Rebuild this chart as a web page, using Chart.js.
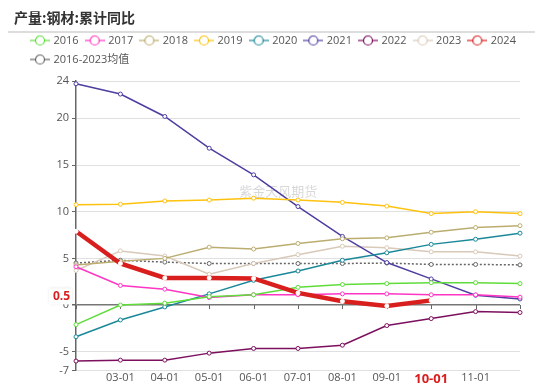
<!DOCTYPE html>
<html>
<head>
<meta charset="utf-8">
<script src="https://cdn.jsdelivr.net/npm/chart.js@4.4.1/dist/chart.umd.min.js"></script>
<style>
  html, body { margin: 0; padding: 0; background: #fff; }
  #wrap { position: relative; width: 550px; height: 388px; }
  #titulo { position: absolute; left: 14px; top: 7px; font: bold 14px "Noto Sans CJK SC", sans-serif; color: #333; }
  #linea { position: absolute; left: 8px; top: 31px; width: 527px; height: 2px; background: #ddd; }
  canvas { position: absolute; left: 0; top: 0; }
</style>
</head>
<body>
<div id="wrap">
  <canvas id="grafica" width="550" height="388"></canvas>
  <div id="titulo">产量:钢材:累计同比</div>
  <div id="linea"></div>
</div>
<script>
// datos
const categorias = ['02-01','03-01','04-01','05-01','06-01','07-01','08-01','09-01','10-01','11-01','12-01'];
const ticksY = [24, 20, 15, 10, 5, 0, -5, -7];

const s2016 = [-2.1, 0.0, 0.2, 0.9, 1.1, 1.9, 2.2, 2.3, 2.4, 2.4, 2.3];
const s2017 = [4.1, 2.1, 1.7, 0.8, 1.1, 1.1, 1.2, 1.2, 1.1, 1.1, 0.85];
const s2018 = [4.3, 4.7, 5.0, 6.2, 6.0, 6.6, 7.1, 7.2, 7.8, 8.3, 8.5];
const s2019 = [10.75, 10.8, 11.15, 11.25, 11.45, 11.25, 11.0, 10.6, 9.8, 10.0, 9.8];
const s2020 = [-3.4, -1.6, -0.2, 1.2, 2.65, 3.65, 4.8, 5.6, 6.5, 7.05, 7.7];
const s2021 = [23.7, 22.6, 20.2, 16.8, 13.95, 10.55, 7.35, 4.55, 2.8, 1.05, 0.65];
const s2022 = [-6.0, -5.9, -5.9, -5.15, -4.65, -4.65, -4.3, -2.2, -1.45, -0.7, -0.8];
const s2023 = [3.7, 5.8, 5.25, 3.3, 4.45, 5.4, 6.3, 6.15, 5.7, 5.7, 5.25];
const s2024 = [7.9, 4.45, 2.9, 2.9, 2.85, 1.3, 0.4, -0.1, 0.5, null, null];
const promedio = [4.5, 4.8, 4.6, 4.45, 4.45, 4.45, 4.45, 4.5, 4.35, 4.35, 4.3];

const series = [
  { label: '2016', data: s2016, color: '#5FDC3A' },
  { label: '2017', data: s2017, color: '#FF35C4' },
  { label: '2018', data: s2018, color: '#BBAD70' },
  { label: '2019', data: s2019, color: '#FFC20E' },
  { label: '2020', data: s2020, color: '#1B8899' },
  { label: '2021', data: s2021, color: '#4E3EA0' },
  { label: '2022', data: s2022, color: '#7C0F5E' },
  { label: '2023', data: s2023, color: '#D8C9B8' },
  { label: '2024', data: s2024, color: '#D91E1E' },
  { label: '2016-2023均值', data: promedio, color: '#666666' }
];

// icono de leyenda: linea con circulo
function iconoLeyenda(color) {
  const c = document.createElement('canvas');
  c.width = 20; c.height = 12;
  const g = c.getContext('2d');
  g.strokeStyle = color; g.lineWidth = 1.2;
  g.beginPath(); g.moveTo(0, 6); g.lineTo(20, 6); g.stroke();
  g.fillStyle = '#fff';
  g.beginPath(); g.arc(10, 6, 4.5, 0, Math.PI * 2); g.fill(); g.stroke();
  return c;
}
const iconos = series.map(s => iconoLeyenda(s.color));

const datasets = series.map((s, i) => {
  const esActual = s.label === '2024';
  const esProm = i === series.length - 1;
  return {
    label: s.label,
    data: s.data,
    borderColor: s.color,
    backgroundColor: '#fff',
    borderWidth: esActual ? 4.5 : 1.5,
    borderDash: esProm ? [2, 2] : [],
    pointRadius: 2,
    pointBorderWidth: 1,
    pointBackgroundColor: '#fff',
    pointBorderColor: esActual ? '#ffffff' : s.color,
    tension: 0,
    order: esActual ? -1 : 0
  };
});

// la leyenda necesita algo mas de ancho y un margen inferior
const margenLeyenda = {
  id: 'margenLeyenda',
  beforeUpdate(chart) {
    const lg = chart.legend;
    if (lg && !lg._parcheado) {
      const fitOrig = lg.fit;
      lg.fit = function () {
        this.maxWidth += 16;
        fitOrig.call(this);
        this.height += 6;
      };
      const drawOrig = lg.draw;
      lg.draw = function () {
        const r = this.right;
        this.right = r + 16;
        drawOrig.call(this);
        this.right = r;
      };
      lg._parcheado = true;
    }
  }
};

// marcas sobre la linea cero, marca de agua y etiqueta 0.5
const extras = {
  id: 'extras',
  beforeDatasetsDraw(chart) {
    const ctx = chart.ctx, x = chart.scales.x, y = chart.scales.y;
    const y0 = y.getPixelForValue(0);
    ctx.save();
    ctx.strokeStyle = '#666'; ctx.lineWidth = 1;
    for (let i = 0; i < categorias.length; i++) {
      const px = Math.round(x.getPixelForValue(i)) + 0.5;
      ctx.beginPath(); ctx.moveTo(px, y0); ctx.lineTo(px, y0 + 4); ctx.stroke();
    }
    ctx.font = '13px "Noto Sans CJK SC"';
    ctx.fillStyle = 'rgba(190,190,190,0.6)';
    ctx.textAlign = 'left'; ctx.textBaseline = 'middle';
    ctx.fillText('紫金天风期货', x.getPixelForValue(3) + 30, y.getPixelForValue(12.2));
    ctx.restore();
  },
  afterDraw(chart) {
    const ctx = chart.ctx, y = chart.scales.y;
    const ultimo = s2024.filter(v => v !== null).pop();
    const py = y.getPixelForValue(ultimo) - 4;
    ctx.save();
    ctx.font = 'bold 12px "Noto Sans"';
    const w = ctx.measureText(String(ultimo)).width;
    ctx.fillStyle = '#fff';
    ctx.shadowColor = 'rgba(0,0,0,0.15)'; ctx.shadowBlur = 3;
    ctx.fillRect(chart.chartArea.left - w - 10, py - 8, w + 6, 16);
    ctx.shadowBlur = 0;
    ctx.fillStyle = '#D91E1E';
    ctx.textAlign = 'right'; ctx.textBaseline = 'middle';
    ctx.fillText(String(ultimo), chart.chartArea.left - 6, py);
    ctx.restore();
  }
};

new Chart(document.getElementById('grafica'), {
  type: 'line',
  data: { labels: categorias, datasets: datasets },
  plugins: [margenLeyenda, extras],
  options: {
    responsive: false,
    animation: false,
    layout: { padding: { top: 27, left: 24, right: 30, bottom: 0 } },
    plugins: {
      legend: {
        position: 'top',
        align: 'start',
        labels: {
          usePointStyle: true,
          pointStyleWidth: 16,
          padding: 8,
          color: '#555',
          font: { size: 11, family: '"Open Sans", "Noto Sans CJK SC"' },
          sort: (a, b) => a.datasetIndex - b.datasetIndex,
          generateLabels(chart) {
            return Chart.defaults.plugins.legend.labels.generateLabels(chart)
              .map(l => ({ ...l, pointStyle: iconos[l.datasetIndex], lineWidth: 0 }));
          }
        }
      },
      tooltip: { enabled: false }
    },
    scales: {
      x: {
        offset: false,
        grid: { display: false, drawTicks: false },
        border: { display: false },
        ticks: {
          autoSkip: false,
          maxRotation: 0,
          padding: 1,
          callback: (v, i) => (i === 0 || i === categorias.length - 1) ? '' : categorias[i],
          color: c => c.tick && c.tick.label === '10-01' ? '#D91E1E' : '#555',
          font: c => c.tick && c.tick.label === '10-01'
            ? { size: 13, weight: 'bold', family: '"Open Sans"' }
            : { size: 11, family: '"Open Sans"' }
        }
      },
      y: {
        min: -7,
        max: 24,
        afterBuildTicks: s => { s.ticks = ticksY.map(v => ({ value: v })); },
        afterFit: s => { s.width = 52; },
        grid: {
          color: c => c.tick && c.tick.value === 0 ? '#777' : '#e0e0e0',
          lineWidth: c => c.tick && c.tick.value === 0 ? 1.5 : 1,
          tickLength: 4,
          tickColor: '#666'
        },
        border: { display: true, color: '#666', width: 1.5 },
        ticks: { color: '#555', padding: 3, font: { size: 11, family: '"Open Sans"' } }
      }
    }
  }
});
</script>
</body>
</html>
